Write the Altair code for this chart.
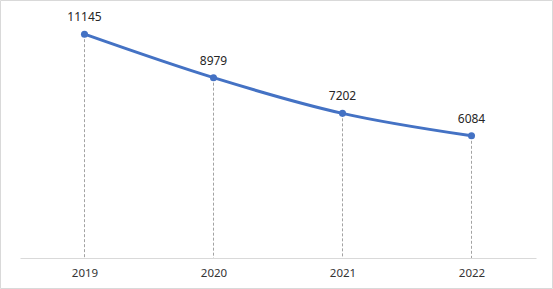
import altair as alt
import pandas as pd

years = ["2019", "2020", "2021", "2022"]
values = [11145, 8979, 7202, 6084]

df = pd.DataFrame({"year": years, "value": values})

W, H = 516, 241
FONT = "Noto Sans"
BLUE = "#4472C4"

x_enc = alt.X("year:N", scale=alt.Scale(type="point", padding=0.5),
              axis=alt.Axis(title=None, labelAngle=0, ticks=False, domain=True,
                            domainColor="#d9d9d9", labelPadding=9, labelFontSize=11.5,
                            labelColor="#333333", labelFont=FONT, grid=False))
y_enc = alt.Y("value:Q", scale=alt.Scale(domain=[0, 12000], nice=False), axis=None)

base = alt.Chart(df)

rules = base.mark_rule(color="#8c8c8c", strokeDash=[3, 2], strokeWidth=0.8).encode(
    x=x_enc, y=y_enc, y2=alt.datum(0)
)
line = base.mark_line(color=BLUE, strokeWidth=3, interpolate="monotone").encode(x=x_enc, y=y_enc)
pts = base.mark_point(filled=True, color=BLUE, size=50, opacity=1).encode(x=x_enc, y=y_enc)
labels = base.mark_text(dy=-17, fontSize=12, font=FONT, color="#262626").encode(
    x=x_enc, y=y_enc, text=alt.Text("value:Q", format="d")
)
frame = alt.Chart(alt.Data(values=[{}])).mark_rect(fill=None, stroke="#d9d9d9", strokeWidth=1).encode(
    x=alt.value(-19.5), x2=alt.value(532.5), y=alt.value(-16.5), y2=alt.value(271.5)
)

chart = alt.layer(frame, rules, line, pts, labels).properties(
    width=W, height=H,
    autosize=alt.AutoSizeParams(type="none"),
    padding={"left": 20, "top": 17, "right": 17, "bottom": 31},
    background="white",
).configure_view(stroke=None)

chart.save("out.html", embed_options={"renderer": "svg", "actions": False})
